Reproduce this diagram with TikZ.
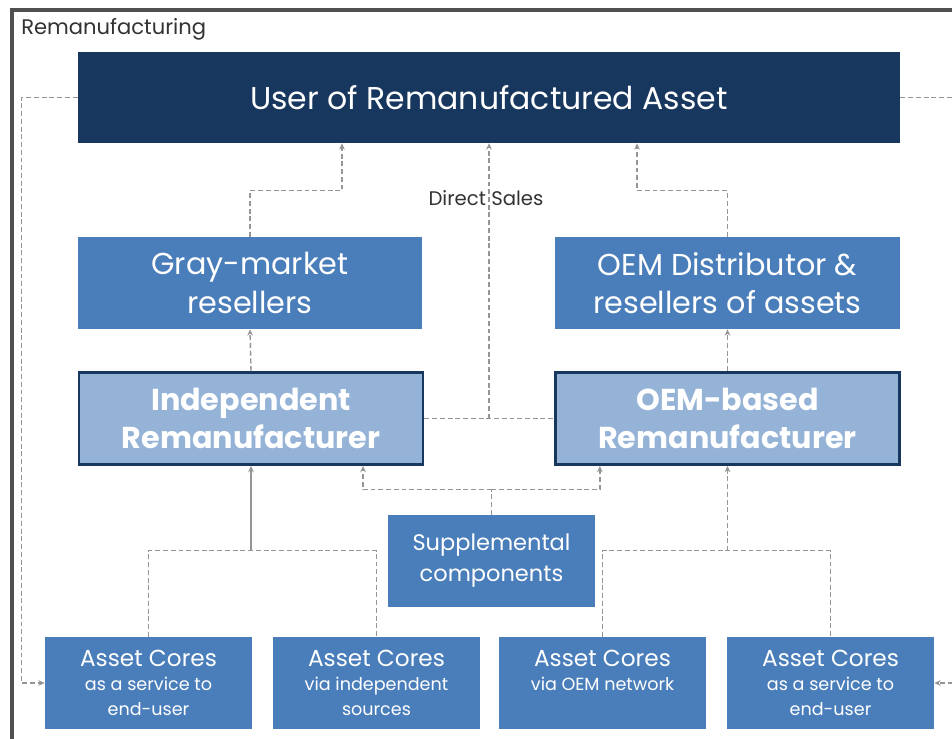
\documentclass[tikz,border=0pt]{standalone}
\usepackage{fontspec}
\setmainfont{Poppins}
\usepackage{tikz}
\usepackage{xcolor}
\usetikzlibrary{positioning,arrows.meta}
\definecolor{navy}{HTML}{17375E}
\definecolor{midblue}{HTML}{4A7EBB}
\definecolor{lightblue}{HTML}{95B3D7}
\definecolor{linkgray}{HTML}{959595}
\definecolor{framegray}{HTML}{505050}
\newcommand{\subtxt}{\fontsize{12.5}{15}\selectfont}

\begin{document}
\begin{tikzpicture}[x=0.025cm,y=-0.025cm]
\tikzstyle{every node}+=[inner sep=0pt,align=center]
\tikzstyle{topbox}=[fill=navy,text=white,minimum width=20.55cm,minimum height=2.275cm,font=\fontsize{22.4}{27}\selectfont]
\tikzstyle{sellbox}=[fill=midblue,text=white,minimum width=8.6cm,minimum height=2.3cm,font=\fontsize{21.5}{27.5}\selectfont]
\tikzstyle{remanbox}=[fill=lightblue,draw=navy,line width=2pt,text=white,minimum width=8.6cm,minimum height=2.3cm,font=\bfseries\fontsize{21.5}{27.5}\selectfont]
\tikzstyle{corebox}=[fill=midblue,text=white,minimum width=5.175cm,minimum height=2.3cm,font=\fontsize{16.5}{18}\selectfont]
\tikzstyle{conn}=[draw=linkgray,line width=1pt,dash pattern=on 3.5pt off 2pt]
\tikzstyle{link}=[conn,-{Stealth[length=4.5pt,width=4pt]}]
\useasboundingbox (0,0) rectangle (952,738);
\clip (0,0) rectangle (952,738);
\fill [white] (0,0) rectangle (952,738);
\draw [framegray,line width=2.2pt] (12,10) rectangle (962,760);
\node (title) [anchor=west,font=\fontsize{15}{17}\selectfont,text=black!80] at (21,29) {Remanufacturing};
\node (user) [topbox] at (489,97.5) {User of Remanufactured Asset};
\node (gray) [sellbox] at (250,283) {Gray-market\\resellers};
\node (dist) [sellbox] at (727.5,283) {OEM Distributor \&\\resellers of assets};
\node (indep) [remanbox] at (251,418.5) {Independent\\Remanufacturer};
\node (oemr) [remanbox] at (727.5,418.5) {OEM-based\\Remanufacturer};
\node (supp) [corebox,font=\fontsize{16}{22}\selectfont] at (491.5,561) {Supplemental\\components};
\node (a1) [corebox] at (148.5,683) {Asset Cores\\[-1pt]{\subtxt as a service to}\\{\subtxt end-user}};
\node (a2) [corebox] at (376.5,683) {Asset Cores\\[-1pt]{\subtxt via independent}\\{\subtxt sources}};
\node (a3) [corebox] at (602.5,683) {Asset Cores\\[-1pt]{\subtxt via OEM network}\\{\subtxt\phantom{x}}};
\node (a4) [corebox] at (830.5,683) {Asset Cores\\[-1pt]{\subtxt as a service to}\\{\subtxt end-user}};
\node (sales) [font=\fontsize{14}{16}\selectfont,text=black!80] at (486,198) {Direct Sales};
\draw [link] (gray.north) -- ++(0,-46) -| ([xshift=-3.675cm]user.south);
\draw [link] (dist.north) -- ++(0,-46) -| ([xshift=3.7cm]user.south);
\draw [link] (indep.north) -- (gray.south);
\draw [link] (oemr.north) -- (dist.south);
\draw [conn] (indep.east) -- (oemr.west);
\draw [link] (user.south |- indep.east) -- (user.south);
\draw [conn] (supp.north) -- ++(0,-25) coordinate (sj);
\draw [link] (sj) -| ([xshift=2.8cm]indep.south);
\draw [link] (sj) -| ([xshift=-3.19cm]oemr.south);
\draw [conn] (a1.north) -- ++(0,-86) -| (a2.north);
\draw [link,solid] (indep.south |- 0,551) -- (indep.south);
\draw [conn] (a3.north) -- ++(0,-86) -| (a4.north);
\draw [link] (oemr.south |- 0,551) -- (oemr.south);
\draw [link] (user.west) -- ++(-56,0) |- (a1.west);
\draw [link] (user.east) -- ++(62,0) |- (a4.east);
\end{tikzpicture}
\end{document}
